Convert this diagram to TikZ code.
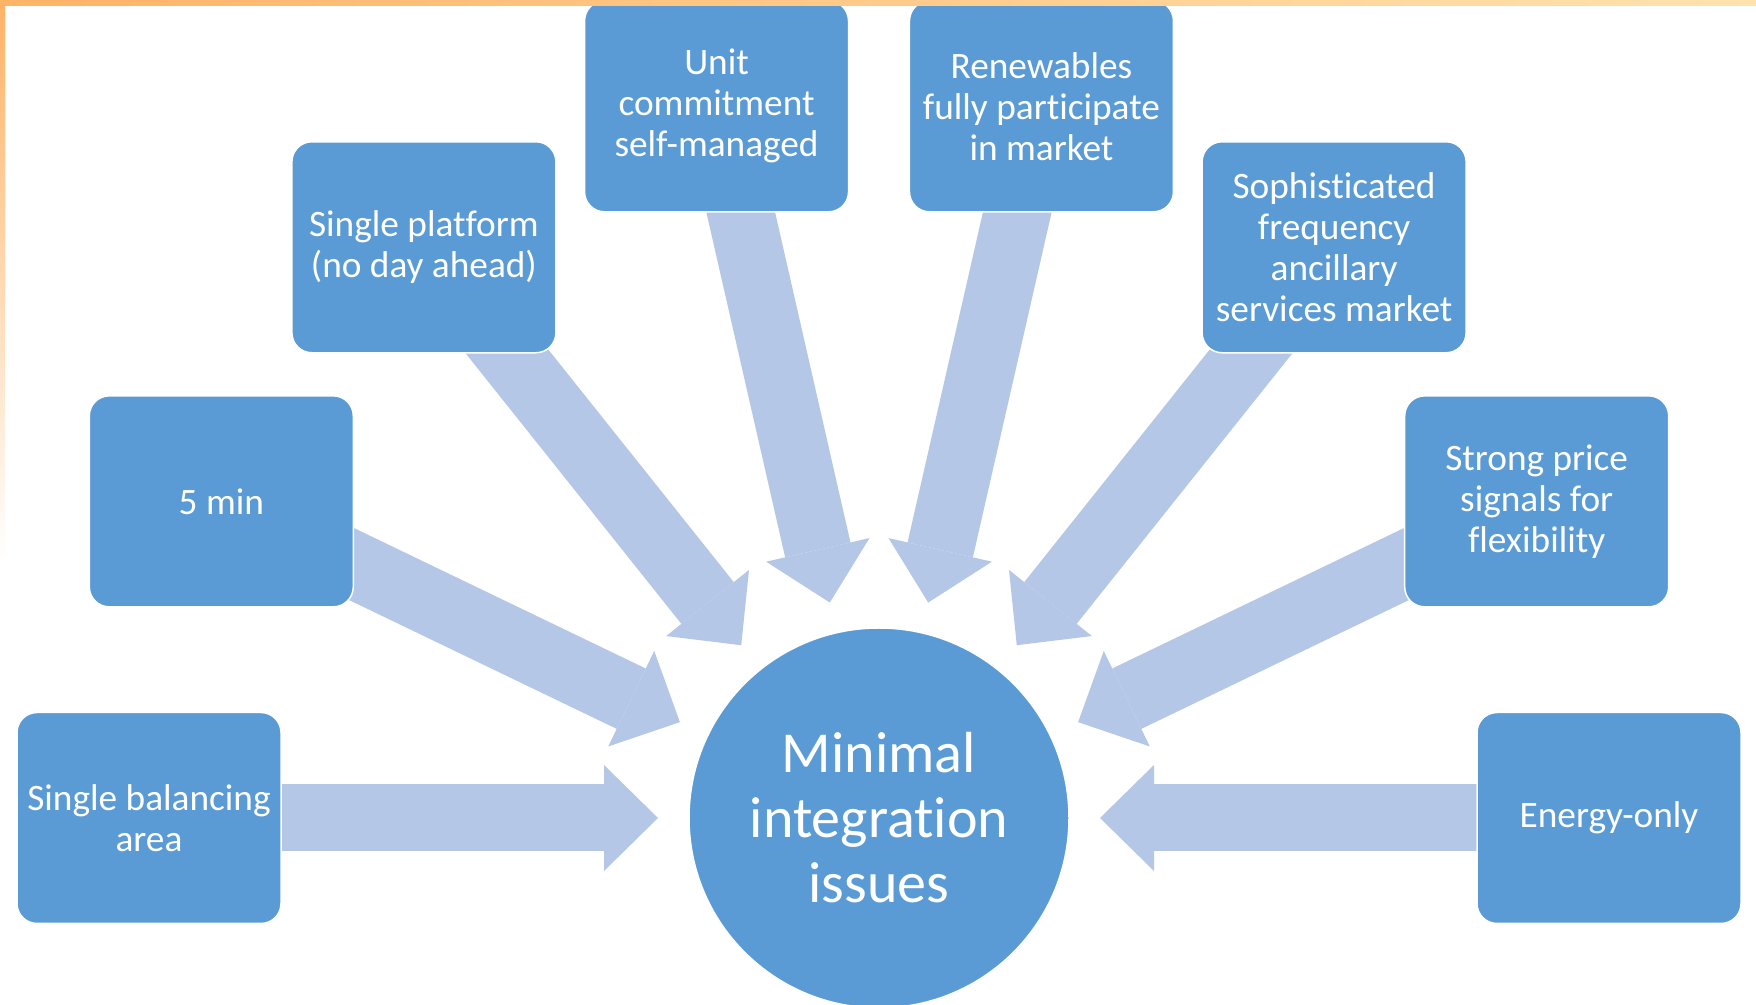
\documentclass[tikz,border=0pt]{standalone}
\usepackage{fontspec}
\setmainfont{Carlito}[Ligatures=NoCommon]
\usetikzlibrary{arrows.meta}
\usetikzlibrary{calc}
\definecolor{boxblue}{HTML}{5B9BD5}
\definecolor{arrowblue}{HTML}{B4C7E7}
\definecolor{frameorange}{HTML}{FFB366}
\definecolor{framemid}{HTML}{FFD9A6}
\definecolor{framelight}{HTML}{FFE2AE}
\pgfdeclarelayer{back}
\pgfsetlayers{back,main}
\newcommand{\tipat}[1]{($(M)!221pt!(#1)$)}

\begin{document}
\begin{tikzpicture}[x=1pt,y=1pt,every node/.style={text=white,align=center},
  cause/.style={rectangle,rounded corners=20pt,draw=white,line width=1.5pt,
                fill=boxblue,minimum width=264pt,minimum height=211pt,
                inner sep=0pt,font=\fontsize{37.3}{41}\selectfont},
  push/.style={draw=arrowblue,line width=67pt,
               -{Triangle[length=54pt,width=106pt,line width=0pt]}}]
 \useasboundingbox (0,0) rectangle (1756,1004);

 \draw (879,186)  node[circle,draw=white,line width=1.5pt,fill=boxblue,
                       minimum size=380pt,inner sep=0pt,
                       font=\fontsize{58}{65}\selectfont] (M)
              {Minimal\\integration\\issues};

 \draw (M) ++(180:730)    node[cause] (B1) {Single balancing\\area};
 \draw (M) ++(154.29:730) node[cause] (B2) {5 min};
 \draw (M) ++(128.57:730) node[cause] (B3) {Single platform\\(no day ahead)};
 \draw (M) ++(102.86:730) node[cause] (B4) {Unit\\commitment\\self-managed};
 \draw (M) ++(77.14:730)  node[cause] (B5) {Renewables\\fully participate\\in market};
 \draw (M) ++(51.43:730)  node[cause] (B6) {Sophisticated\\frequency\\ancillary\\services market};
 \draw (M) ++(25.71:730)  node[cause] (B7) {Strong price\\signals for\\flexibility};
 \draw (M) ++(0:730)      node[cause] (B8) {Energy-only};

 \begin{pgfonlayer}{back}
  \fill[white] (0,0) rectangle (1756,1004);
  \draw[push] (B1.center) -- \tipat{B1};
  \draw[push] (B2.center) -- \tipat{B2};
  \draw[push] (B3.center) -- \tipat{B3};
  \draw[push] (B4.center) -- \tipat{B4};
  \draw[push] (B5.center) -- \tipat{B5};
  \draw[push] (B6.center) -- \tipat{B6};
  \draw[push] (B7.center) -- \tipat{B7};
  \draw[push] (B8.center) -- \tipat{B8};
 \end{pgfonlayer}

 \shade[left color=frameorange,middle color=framemid,right color=framelight]
   (0,998.5) rectangle (1756,1004);
 \shade[top color=frameorange,bottom color=white]
   (0,444) rectangle (5,998.5);

\end{tikzpicture}
\end{document}
